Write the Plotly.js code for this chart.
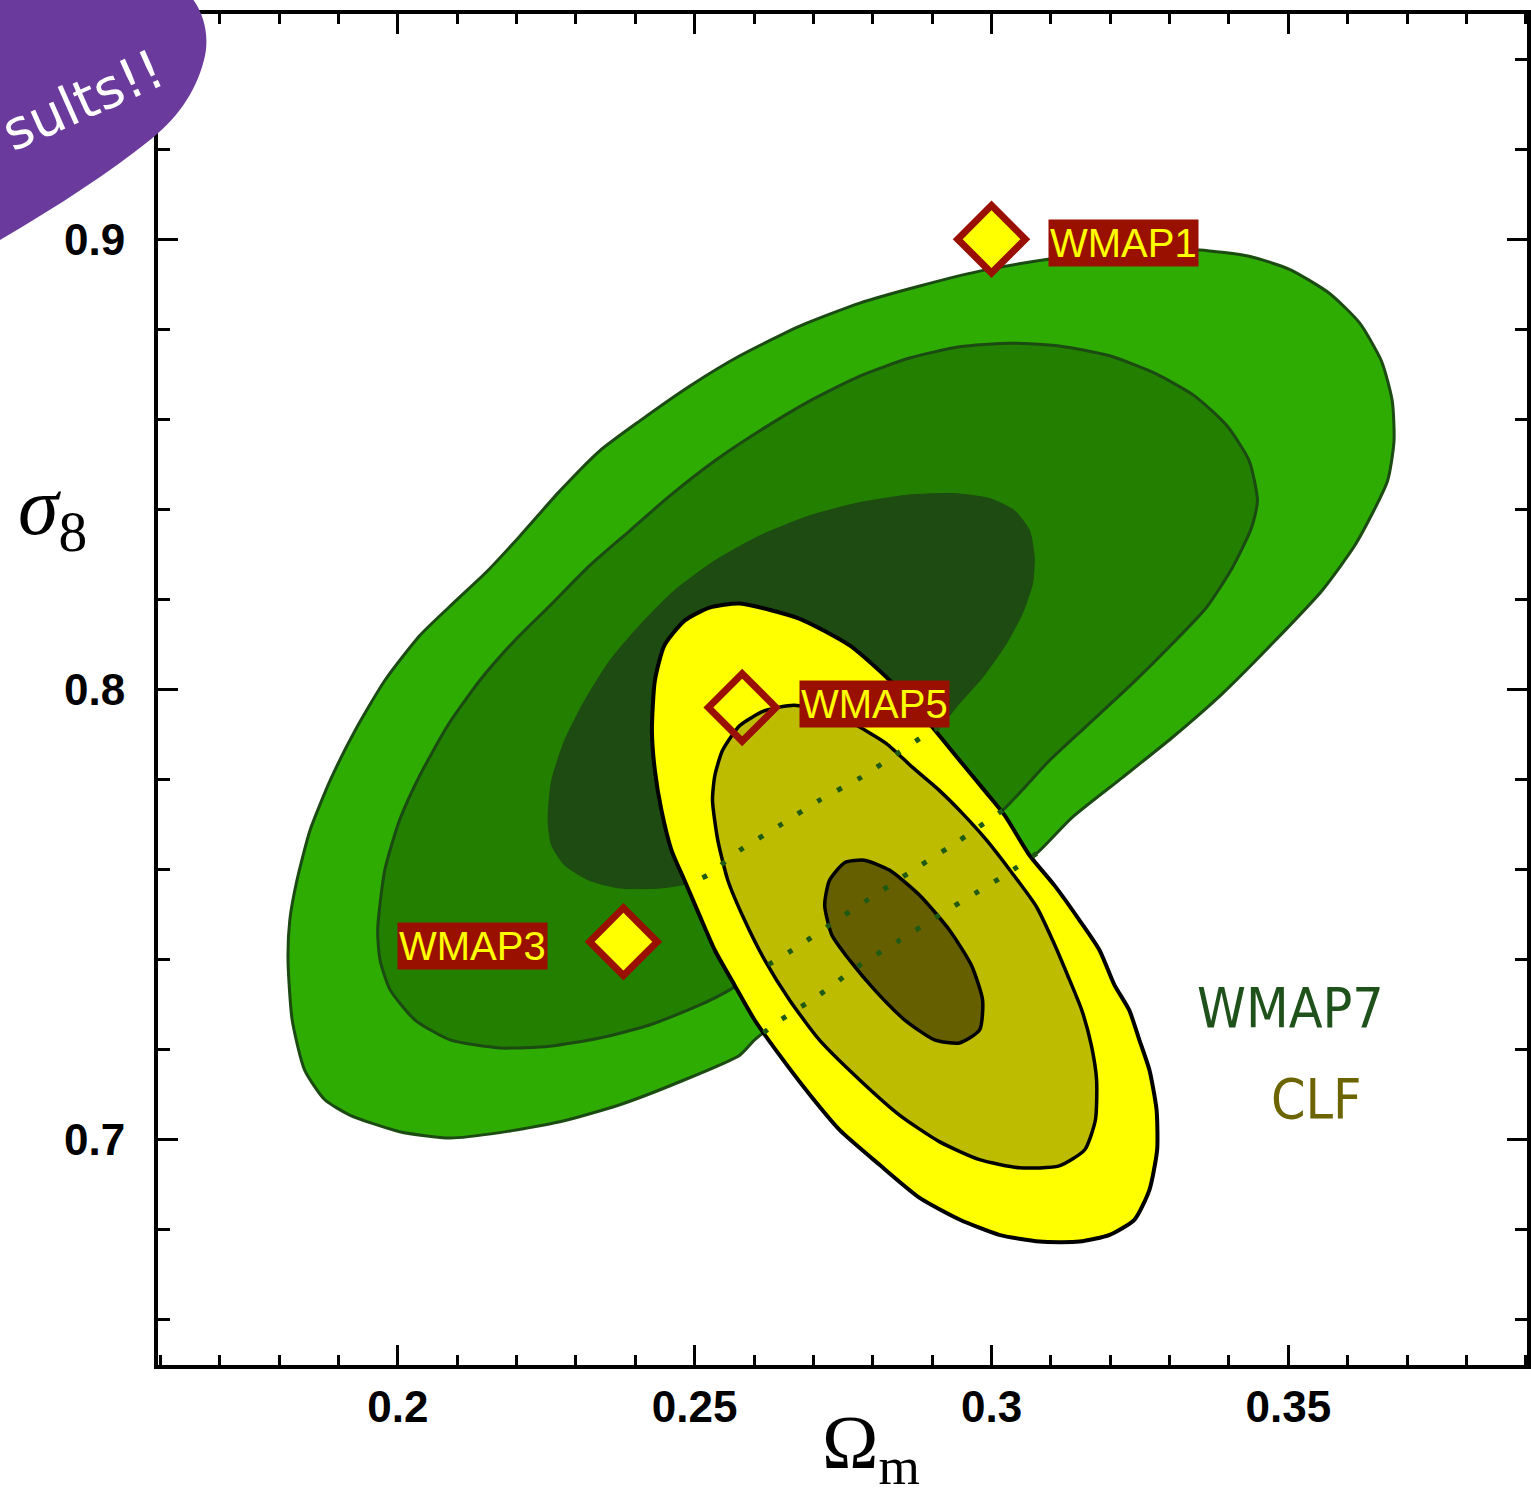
<!DOCTYPE html>
<html>
<head>
<meta charset="utf-8">
<script src="https://cdn.plot.ly/plotly-3.0.1.min.js"></script>
<style>
  html, body { margin: 0; padding: 0; background: #ffffff; }
  #chart { width: 1531px; height: 1496px; }
</style>
</head>
<body>
<div id="chart"></div>
<script>
// ---------------- DATA (Omega_m, sigma_8) ----------------
// WMAP7 confidence contours (outer = 95%, mid = 68%, inner = core)
const wmap7OuterOm = [0.1815,0.1818,0.1830,0.1852,0.1886,0.1928,0.1978,0.2037,0.2096,0.2150,0.2205,0.2273,0.2340,0.2407,0.2492,0.2576,0.2677,0.2778,0.2879,0.2980,0.3098,0.3182,0.3266,0.3350,0.3434,0.3502,0.3569,0.3620,0.3657,0.3675,0.3678,0.3667,0.3614,0.3557,0.3473,0.3389,0.3305,0.3221,0.3136,0.3076,0.3030,0.2976,0.2912,0.2845,0.2778,0.2710,0.2640,0.2601,0.2576,0.2475,0.2374,0.2273,0.2172,0.2088,0.2003,0.1919,0.1877,0.1843,0.1822,0.1815];
const wmap7OuterS8 = [0.7399,0.7488,0.7576,0.7687,0.7798,0.7909,0.8020,0.8120,0.8195,0.8262,0.8340,0.8441,0.8530,0.8596,0.8674,0.8741,0.8807,0.8858,0.8896,0.8929,0.8956,0.8969,0.8976,0.8976,0.8962,0.8933,0.8880,0.8814,0.8729,0.8641,0.8552,0.8463,0.8324,0.8220,0.8102,0.7991,0.7894,0.7805,0.7716,0.7636,0.7594,0.7550,0.7499,0.7443,0.7388,0.7322,0.7262,0.7222,0.7188,0.7129,0.7078,0.7040,0.7016,0.7004,0.7018,0.7055,0.7089,0.7155,0.7266,0.7399];

const wmap7MidOm = [0.1966,0.1978,0.2003,0.2037,0.2084,0.2138,0.2197,0.2256,0.2323,0.2391,0.2458,0.2534,0.2609,0.2694,0.2778,0.2862,0.2946,0.3030,0.3114,0.3199,0.3274,0.3342,0.3397,0.3434,0.3448,0.3438,0.3406,0.3362,0.3305,0.3237,0.3165,0.3098,0.3019,0.2946,0.2879,0.2811,0.2744,0.2677,0.2598,0.2559,0.2508,0.2424,0.2340,0.2256,0.2172,0.2088,0.2029,0.1987,0.1970,0.1966];
const wmap7MidS8 = [0.7466,0.7599,0.7710,0.7809,0.7920,0.8020,0.8109,0.8186,0.8275,0.8353,0.8430,0.8508,0.8574,0.8641,0.8696,0.8736,0.8761,0.8769,0.8763,0.8741,0.8703,0.8652,0.8585,0.8508,0.8419,0.8359,0.8271,0.8182,0.8102,0.8013,0.7925,0.7843,0.7732,0.7665,0.7608,0.7550,0.7492,0.7432,0.7368,0.7333,0.7299,0.7255,0.7226,0.7208,0.7204,0.7222,0.7266,0.7333,0.7399,0.7466];

const wmap7InnerOm = [0.2253,0.2259,0.2281,0.2315,0.2357,0.2407,0.2466,0.2534,0.2609,0.2694,0.2778,0.2862,0.2938,0.2997,0.3039,0.3064,0.3072,0.3069,0.3052,0.3025,0.2985,0.2946,0.2912,0.2892,0.2837,0.2778,0.2710,0.2643,0.2576,0.2522,0.2492,0.2441,0.2374,0.2323,0.2281,0.2259,0.2253];
const wmap7InnerS8 = [0.7710,0.7798,0.7887,0.7976,0.8064,0.8142,0.8220,0.8286,0.8341,0.8386,0.8415,0.8432,0.8435,0.8424,0.8397,0.8353,0.8293,0.8235,0.8169,0.8102,0.8027,0.7969,0.7916,0.7902,0.7854,0.7803,0.7754,0.7698,0.7643,0.7588,0.7570,0.7559,0.7559,0.7576,0.7610,0.7654,0.7710];

// stretches of each WMAP7 contour hidden beneath the CLF contours (index ranges into the arrays above)
const hiddenOuter = [39, 48];
const hiddenMid = [32, 39];
const hiddenInner = [22, 31];

// CLF confidence contours
const clfOuterOm = [0.2576,0.2677,0.2761,0.2811,0.2845,0.2879,0.2912,0.2946,0.2988,0.3022,0.3064,0.3106,0.3148,0.3182,0.3207,0.3232,0.3249,0.3266,0.3278,0.3279,0.3266,0.3241,0.3199,0.3148,0.3081,0.3013,0.2946,0.2879,0.2811,0.2744,0.2694,0.2643,0.2601,0.2567,0.2534,0.2508,0.2483,0.2461,0.2444,0.2433,0.2428,0.2433,0.2449,0.2483,0.2525,0.2576];
const clfOuterS8 = [0.8191,0.8157,0.8098,0.8042,0.7998,0.7949,0.7898,0.7843,0.7776,0.7721,0.7632,0.7565,0.7488,0.7421,0.7344,0.7288,0.7222,0.7155,0.7067,0.6978,0.6889,0.6823,0.6789,0.6774,0.6774,0.6789,0.6823,0.6871,0.6945,0.7022,0.7100,0.7188,0.7266,0.7344,0.7421,0.7499,0.7576,0.7643,0.7732,0.7820,0.7909,0.8020,0.8098,0.8153,0.8182,0.8191];

const clfMidOm = [0.2530,0.2534,0.2547,0.2576,0.2618,0.2668,0.2719,0.2766,0.2823,0.2867,0.2912,0.2951,0.2992,0.3035,0.3076,0.3103,0.3128,0.3152,0.3168,0.3177,0.3175,0.3157,0.3114,0.3047,0.2980,0.2912,0.2845,0.2778,0.2710,0.2660,0.2618,0.2584,0.2556,0.2539,0.2530];
const clfMidS8 = [0.7754,0.7809,0.7865,0.7920,0.7953,0.7965,0.7949,0.7925,0.7880,0.7827,0.7776,0.7725,0.7665,0.7592,0.7517,0.7443,0.7366,0.7288,0.7211,0.7133,0.7044,0.6978,0.6942,0.6938,0.6956,0.6996,0.7055,0.7133,0.7222,0.7310,0.7399,0.7488,0.7576,0.7665,0.7754];

const clfInnerOm = [0.2719,0.2727,0.2753,0.2786,0.2828,0.2879,0.2929,0.2966,0.2985,0.2980,0.2946,0.2904,0.2854,0.2803,0.2761,0.2731,0.2719];
const clfInnerS8 = [0.7521,0.7576,0.7616,0.7621,0.7599,0.7543,0.7466,0.7388,0.7310,0.7244,0.7215,0.7222,0.7266,0.7333,0.7399,0.7455,0.7521];

// WMAP data releases
const wmapNames = ['WMAP1', 'WMAP3', 'WMAP5'];
const wmapOm = [0.300, 0.238, 0.258];
const wmapS8 = [0.900, 0.744, 0.796];

// Axis ticks
const xTickVals = [0.2, 0.25, 0.3, 0.35];
const xTickText = ['0.2', '0.25', '0.3', '0.35'];
const yTickVals = [0.7, 0.8, 0.9];
const yTickText = ['0.7', '0.8', '0.9'];

// ---------------- STYLE ----------------
const greenLine = '#1b4a12';
const darkRed = '#990f00';
const yellow = '#ffff00';

function fillTrace(x, y, fill, lineColor, lineWidth) {
  return { type: 'scatter', mode: 'lines', x: x, y: y, fill: 'toself', fillcolor: fill,
    line: { color: lineColor, width: lineWidth, shape: 'spline', smoothing: 0.6 },
    hoverinfo: 'skip', showlegend: false };
}
function dotTrace(x, y, range) {
  return { type: 'scatter', mode: 'lines', x: x.slice(range[0], range[1]), y: y.slice(range[0], range[1]),
    line: { color: '#1f5a14', width: 5, dash: '5px,18px', shape: 'spline', smoothing: 0.6 },
    hoverinfo: 'skip', showlegend: false };
}

const traces = [
  fillTrace(wmap7OuterOm, wmap7OuterS8, '#2eac02', greenLine, 3),
  fillTrace(wmap7MidOm, wmap7MidS8, '#227f00', greenLine, 3),
  fillTrace(wmap7InnerOm, wmap7InnerS8, '#1d4b12', '#1d4b12', 1),
  fillTrace(clfOuterOm, clfOuterS8, '#ffff00', '#000000', 4),
  fillTrace(clfMidOm, clfMidS8, '#bdbc00', '#000000', 3.5),
  fillTrace(clfInnerOm, clfInnerS8, '#655f00', '#000000', 3.5),
  dotTrace(wmap7OuterOm, wmap7OuterS8, hiddenOuter),
  dotTrace(wmap7MidOm, wmap7MidS8, hiddenMid),
  dotTrace(wmap7InnerOm, wmap7InnerS8, hiddenInner),
  { type: 'scatter', mode: 'markers', x: wmapOm.slice(0, 2), y: wmapS8.slice(0, 2),
    marker: { symbol: 'diamond', size: 52, color: yellow, line: { color: darkRed, width: 7 } },
    hoverinfo: 'skip', showlegend: false },
  { type: 'scatter', mode: 'markers', x: wmapOm.slice(2), y: wmapS8.slice(2),
    marker: { symbol: 'diamond-open', size: 52, color: darkRed, line: { color: darkRed, width: 7 } },
    hoverinfo: 'skip', showlegend: false }
];

const labelFont = { family: 'Liberation Sans, Arial, sans-serif', size: 40, color: yellow };
const labelShift = { WMAP1: [56, -4, 'left'], WMAP3: [-75, -4, 'right'], WMAP5: [57, 4, 'left'] };
const annotations = wmapNames.map((n, i) => ({
  x: wmapOm[i], y: wmapS8[i], xref: 'x', yref: 'y', text: n, showarrow: false,
  xanchor: labelShift[n][2], yanchor: 'middle', xshift: labelShift[n][0], yshift: labelShift[n][1],
  bgcolor: darkRed, borderpad: 1, font: labelFont
}));

const narrowFont = 'Liberation Sans Narrow, DejaVu Sans Condensed, Arial Narrow, sans-serif';
annotations.push(
  { x: 0.3503, y: 0.7293, xref: 'x', yref: 'y', text: 'WMAP7', showarrow: false,
    font: { family: narrowFont, size: 55, color: '#1e521a' } },
  { x: 0.3547, y: 0.7091, xref: 'x', yref: 'y', text: 'CLF', showarrow: false,
    font: { family: narrowFont, size: 55, color: '#6b6400' } },
  { x: -0.0774, y: 0.6314, xref: 'paper', yref: 'paper', text: '<i>σ</i><sub>8</sub>', showarrow: false,
    xanchor: 'center', yanchor: 'middle',
    font: { family: 'Liberation Serif, DejaVu Serif, serif', size: 82, color: '#000000' } },
  { x: -0.055, y: 0.936, xref: 'paper', yref: 'paper', text: 'sults!!', showarrow: false,
    textangle: -24, xanchor: 'center', yanchor: 'middle',
    font: { family: 'DejaVu Sans, sans-serif', size: 54, color: '#ffffff' } }
);

const shapes = [
  { type: 'path', xref: 'paper', yref: 'paper', layer: 'above',
    path: 'M -0.1300,1.0252 L 0.00877,1.0252 C 0.03068,1.0141 0.03945,0.98816 0.0336,0.96595 ' +
          'C 0.02703,0.94004 0.01242,0.92154 -0.00584,0.90673 ' +
          'C -0.03506,0.88305 -0.07158,0.85862 -0.11541,0.83272 L -0.1300,0.82531 Z',
    fillcolor: '#6a3a9c', line: { width: 0 } }
];

const axisCommon = {
  showgrid: false, zeroline: false, showline: true, linecolor: '#000000', linewidth: 4,
  mirror: 'ticks', ticks: 'inside', ticklen: 20, tickwidth: 3, tickcolor: '#000000',
  tickmode: 'array',
  tickfont: { family: 'Liberation Sans, Arial, sans-serif', size: 44, color: '#000000', weight: 'bold' }
};

const layout = {
  width: 1531, height: 1496,
  margin: { l: 158, r: 4, t: 14, b: 131 },
  paper_bgcolor: '#ffffff', plot_bgcolor: '#ffffff',
  showlegend: false, hovermode: false,
  xaxis: Object.assign({}, axisCommon, {
    range: [0.1596, 0.3902], tickvals: xTickVals, ticktext: xTickText, ticklabelstandoff: 0,
    minor: { dtick: 0.01, tick0: 0, ticks: 'inside', ticklen: 10, tickwidth: 3, tickcolor: '#000000', showgrid: false },
    title: { text: '&nbsp;&nbsp;&nbsp;Ω<sub>m</sub>', standoff: 10,
      font: { family: 'Liberation Serif, DejaVu Serif, serif', size: 76, color: '#000000' } }
  }),
  yaxis: Object.assign({}, axisCommon, {
    range: [0.65, 0.95], tickvals: yTickVals, ticktext: yTickText, ticklabelstandoff: 20,
    minor: { dtick: 0.02, tick0: 0, ticks: 'inside', ticklen: 12, tickwidth: 3, tickcolor: '#000000', showgrid: false }
  }),
  annotations: annotations,
  shapes: shapes
};

Plotly.newPlot('chart', traces, layout, { displayModeBar: false, staticPlot: true });
</script>
</body>
</html>
